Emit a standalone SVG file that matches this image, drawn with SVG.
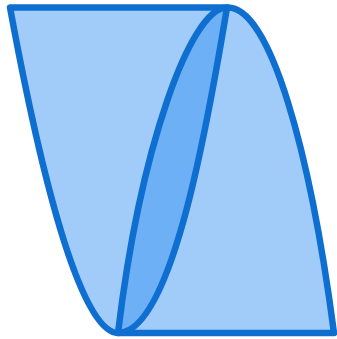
<svg xmlns="http://www.w3.org/2000/svg" width="337" height="339" viewBox="0 0 337 339">
  <style>
    .ln { stroke: #0e6fd1; stroke-width: 6.5; stroke-linejoin: round; stroke-linecap: round; }
    .light { fill: #a1ccfa; }
    .dark { fill: #6db0f6; }
  </style>
  <g id="ribbon">
    <path class="ln light" d="M10,7.5 L228,7.5 C270,7.5 310,150 334,333 L118,333 C80,333 40,170 10,7.5 Z" stroke-linejoin="miter"/>
    <path class="ln dark" d="M227,7.5 C190,7.5 140,150 118,333 C170,333 205,140 227,7.5 Z"/>
  </g>
</svg>
